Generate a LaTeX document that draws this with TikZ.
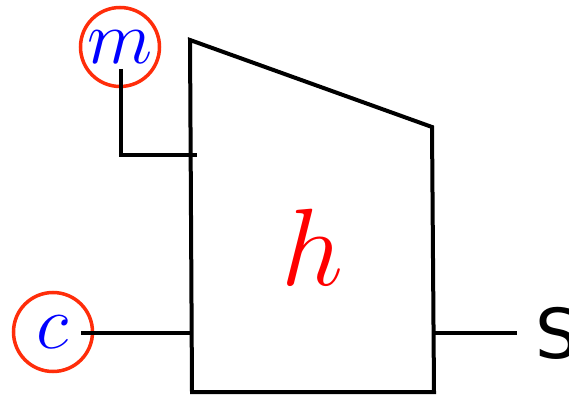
\documentclass[tikz,border=0pt]{standalone}
\usepackage{fix-cm}
\usepackage{fontspec}
\newfontfamily\labelfont{DejaVu Sans}
\usepackage{tikz}
\usetikzlibrary{positioning}
\definecolor{ringred}{RGB}{255,45,10}

\begin{document}
\begin{tikzpicture}[
        x=1pt, y=-1pt,
        line width=4pt,
        ring/.style={circle, draw=ringred, line width=3.5pt, minimum size=79pt, inner sep=0pt,
            text=blue, font=\fontsize{76}{76}\selectfont},
        wire/.style={draw, line cap=butt},
        block/.style={draw, line join=miter}
    ]
    \useasboundingbox (0,0) rectangle (569,395);

    % block corners
    \coordinate (tl) at (190,40);
    \coordinate (tr) at (432,127);
    \coordinate (br) at (434,392);
    \coordinate (bl) at (192,392);
    \draw[block] (tl) -- (tr) -- (br) -- (bl) -- cycle;
    \node[text=red, font=\fontsize{110}{110}\selectfont] (h) at (312,247) {$h$};

    % inputs
    \node[ring] (m) at (120,47) {$m$};
    \node[ring] (c) at (53,332) {$c$};
    \coordinate (mtail) at ([yshift=-22pt]m.center);
    \coordinate (mbend) at (121,155);
    \coordinate (min) at (197,155);
    \coordinate (ctail) at ([xshift=28pt]c.center);
    \coordinate (cin) at (191,333);
    \draw[wire] (mtail -| mbend) -- (mbend) -- (min);
    \draw[wire] (ctail |- cin) -- (cin);

    % output
    \node[anchor=west, inner sep=0pt, font=\labelfont\fontsize{69}{69}\selectfont] (S) at (533,333) {S};
    \coordinate (sout) at (434,333);
    \coordinate (send) at (517,333);
    \draw[wire] (sout) -- (send);
\end{tikzpicture}
\end{document}
